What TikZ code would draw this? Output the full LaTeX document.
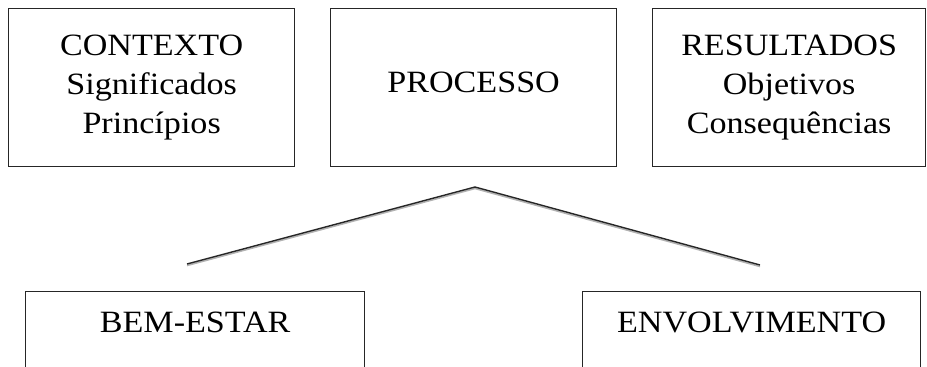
\documentclass[tikz,border=0pt]{standalone}
\usepackage{fontspec}
\setmainfont[FakeStretch=1.1]{Liberation Serif}
\begin{document}
\begin{tikzpicture}[x=1pt,y=1pt,
  box/.style={draw=black!85, line width=1.3pt, anchor=north west, inner sep=0pt,
    minimum width=286pt, minimum height=158pt, align=center,
    font=\fontsize{31}{39}\selectfont},
  lowbox/.style={draw=black!85, line width=1.3pt, anchor=north west, inner sep=0pt,
    minimum height=120pt, text height=41pt, text depth=79pt,
    font=\fontsize{31}{39}\selectfont},
  link/.style={line width=1.4pt, black!85},
  linkshadow/.style={line width=1.6pt, black!30}]
\useasboundingbox (0,0) rectangle (927,-367);
\clip (0,0) rectangle (927,-367);
\node[box] (ctx) at (8,-8) {\raisebox{9pt}{\parbox{280pt}{\centering CONTEXTO\\Significados\\Princípios}}};
\node[box] (proc) at (330,-8) {\raisebox{11pt}{PROCESSO}};
\node[box, minimum width=273pt] (res) at (652,-8) {\raisebox{8pt}{\parbox{270pt}{\centering RESULTADOS\\Objetivos\\Consequências}}};
\node[lowbox, minimum width=339pt] (bem) at (25,-291) {BEM-ESTAR};
\node[lowbox, minimum width=338pt] (env) at (582,-291) {ENVOLVIMENTO};
\coordinate (apex) at (475,-187);
\coordinate (lend) at (187,-264);
\coordinate (rend) at (760,-265);
\draw[linkshadow, transform canvas={yshift=-1.5pt}] (lend) -- (apex) -- (rend);
\draw[link] (lend) -- (apex) -- (rend);
\end{tikzpicture}
\end{document}
